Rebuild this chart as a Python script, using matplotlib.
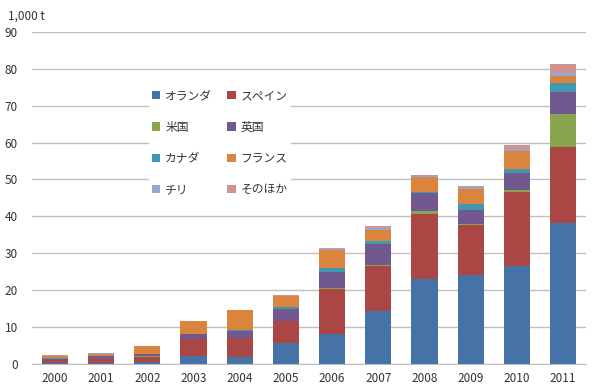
import numpy as np
import matplotlib.pyplot as plt

plt.rcParams['font.family'] = ['Noto Sans CJK JP', 'DejaVu Sans']

years = ['2000', '2001', '2002', '2003', '2004', '2005',
         '2006', '2007', '2008', '2009', '2010', '2011']
series = ['オランダ', 'スペイン', '米国', '英国', 'カナダ', 'フランス', 'チリ', 'そのほか']
netherlands = [0.3, 0.2, 0.4, 2.0, 1.7, 5.6, 8.0, 14.2, 22.9, 24.0, 26.5, 38.1]
spain =       [0.8, 1.2, 1.5, 4.6, 5.2, 6.0, 12.2, 12.4, 17.7, 13.7, 20.1, 20.6]
usa =         [0.0, 0.0, 0.1, 0.1, 0.1, 0.1, 0.4, 0.2, 0.7, 0.2, 0.6, 9.1]
uk =          [0.3, 0.6, 0.5, 1.3, 2.0, 3.2, 4.4, 5.7, 4.9, 3.9, 4.4, 6.0]
canada =      [0.1, 0.1, 0.2, 0.1, 0.1, 0.4, 1.0, 0.8, 0.4, 1.5, 1.2, 2.4]
france =      [0.5, 0.6, 2.0, 3.4, 5.5, 3.2, 4.9, 3.0, 4.0, 4.1, 4.9, 1.9]
chile =       [0.2, 0.1, 0.1, 0.0, 0.0, 0.0, 0.2, 0.5, 0.4, 0.5, 0.5, 0.8]
others =      [0.2, 0.1, 0.0, 0.1, 0.0, 0.1, 0.4, 0.5, 0.1, 0.4, 1.2, 2.5]
colors = ['#4572A7', '#AA4643', '#89A54E', '#71588F',
          '#4198AF', '#DB843D', '#93A9CF', '#D19392']

data = [netherlands, spain, usa, uk, canada, france, chile, others]

fig = plt.figure(figsize=(6, 3.89), dpi=100)
ax = fig.add_axes([0.053, 0.065, 0.924, 0.853])

x = np.arange(len(years))
bottom = np.zeros(len(years))
handles = []
for name, vals, c in zip(series, data, colors):
    b = ax.bar(x, vals, 0.57, bottom=bottom, color=c, label=name, zorder=3)
    handles.append(b)
    bottom += np.array(vals)

ax.set_ylim(0, 90)
ax.set_xlim(-0.5, len(years) - 0.5)
ax.set_yticks(range(0, 91, 10))
ax.set_xticks(x)
ax.set_xticklabels(years)
ax.yaxis.grid(True, color='#BFBFBF', linewidth=1, zorder=0)
ax.set_axisbelow(True)
for s in ['top', 'right', 'left']:
    ax.spines[s].set_visible(False)
ax.spines['bottom'].set_color('#BFBFBF')
ax.tick_params(length=0, labelsize=8.5, colors='#333333')
ax.tick_params(axis='y', pad=10)
ax.tick_params(axis='x', pad=6)

fig.text(0.013, 0.975, '1,000 t', fontsize=8.5, color='#333333', va='top')

# legend row-wise: reorder for column-first fill
order = [0, 2, 4, 6, 1, 3, 5, 7]
leg = ax.legend([handles[i] for i in order], [series[i] for i in order],
                ncol=2, loc='upper left', bbox_to_anchor=(0.2, 0.855),
                frameon=True, fontsize=8.5, handlelength=0.7, handleheight=0.7,
                handletextpad=0.4, labelspacing=1.55, columnspacing=1.3,
                borderpad=0.3)
leg.get_frame().set_edgecolor('none')
leg.get_frame().set_facecolor('white')
leg.get_frame().set_alpha(1)
for t in leg.get_texts():
    t.set_color('#333333')

fig.savefig('out.png', dpi=100)
